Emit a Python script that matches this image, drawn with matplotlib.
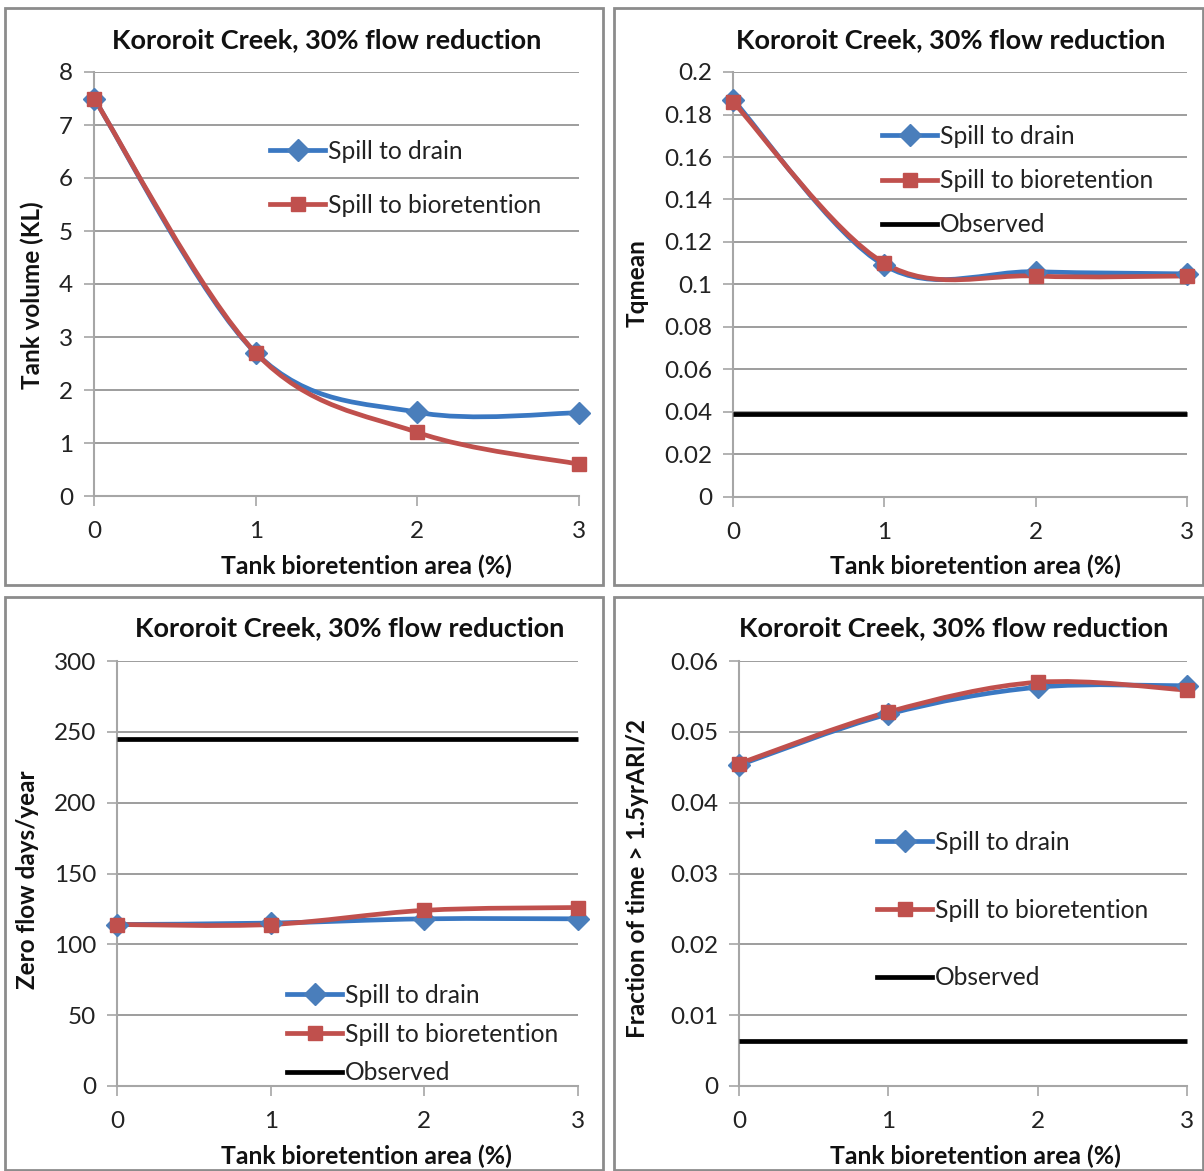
import numpy as np
import matplotlib
matplotlib.use("Agg")
import matplotlib.pyplot as plt
from matplotlib.path import Path
from matplotlib.patches import PathPatch, Rectangle
from matplotlib.lines import Line2D

plt.rcParams['font.family'] = ['Lato', 'DejaVu Sans']

# data
area = [0, 1, 2, 3]

tank_drain = [7.5, 2.7, 1.58, 1.57]
tank_bio = [7.5, 2.7, 1.2, 0.6]

tq_drain = [0.187, 0.109, 0.106, 0.105]
tq_bio = [0.186, 0.110, 0.104, 0.104]
tq_obs = 0.039

zero_drain = [114, 115, 118, 118]
zero_bio = [114, 114, 124, 126]
zero_obs = 245

frac_drain = [0.0453, 0.0525, 0.0563, 0.0565]
frac_bio = [0.0455, 0.0528, 0.0570, 0.0559]
frac_obs = 0.0063

title = "Kororoit Creek, 30% flow reduction"
xlabel = "Tank bioretention area (%)"

BLUE_LINE = '#3a78c2'
BLUE_MK = '#4a7ebb'
RED = '#c0504d'
GRID = '#8c8c8c'

W, H = 1204, 1171


def smooth_path(x, y):
    # excel-like smoothed line: bezier with catmull-rom control points
    p = np.column_stack([x, y]).astype(float)
    n = len(p)
    verts = [p[0]]
    codes = [Path.MOVETO]
    for i in range(n - 1):
        p0 = p[i - 1] if i > 0 else p[i]
        p3 = p[i + 2] if i + 2 < n else p[i + 1]
        c1 = p[i] + (p[i + 1] - p0) / 6
        c2 = p[i + 1] - (p3 - p[i]) / 6
        verts += [c1, c2, p[i + 1]]
        codes += [Path.CURVE4] * 3
    return Path(verts, codes)


def fx(px):
    return px / W


def fy(py):
    return 1 - py / H


def panel(box, ylim, yticks, ylabel, drain, bio, obs, tick_fmt,
          ttl_xy, ylab_xy, xlab_xy, leg_xy, leg_space):
    l, t, r, b = box
    ax = fig.add_axes([fx(l), fy(b), fx(r) - fx(l), fy(t) - fy(b)])
    ax.set_xlim(0, 3)
    ax.set_ylim(*ylim)
    ax.set_yticks(yticks)
    ax.set_yticklabels([tick_fmt(v) for v in yticks])
    ax.set_xticks(area)
    ax.set_xticklabels([str(a) for a in area])
    for s in ['top', 'right']:
        ax.spines[s].set_visible(False)
    for s in ['left', 'bottom']:
        ax.spines[s].set_color('#a6a6a6')
        ax.spines[s].set_linewidth(1.5)
    ax.grid(axis='y', color=GRID, lw=1.2)
    ax.set_axisbelow(True)
    ax.tick_params(axis='both', direction='out', length=7, width=1.2,
                   color='#a6a6a6', labelsize=17.5, labelcolor='#222222')
    ax.tick_params(axis='x', pad=11)
    ax.tick_params(axis='y', pad=8)

    handles = []
    if obs is not None:
        ax.plot([0, 3], [obs, obs], color='black', lw=3.4, clip_on=False,
                solid_capstyle='butt', zorder=3)
    for vals, lc, mc, mk, ms in [(drain, BLUE_LINE, BLUE_MK, 'D', 11),
                                 (bio, RED, RED, 's', 10)]:
        ax.add_patch(PathPatch(smooth_path(area, vals), fill=False,
                               edgecolor=lc, lw=3.4, clip_on=False, zorder=4))
        ax.plot(area, vals, ls='none', marker=mk, ms=ms, color=mc,
                clip_on=False, zorder=5)
    handles.append(Line2D([], [], color=BLUE_LINE, lw=3.4, marker='D',
                          ms=11, mfc=BLUE_MK, mec=BLUE_MK))
    handles.append(Line2D([], [], color=RED, lw=3.4, marker='s', ms=10))
    labels = ["Spill to drain", "Spill to bioretention"]
    if obs is not None:
        handles.append(Line2D([], [], color='black', lw=3.4))
        labels.append("Observed")
    ax.legend(handles, labels, loc='upper left',
              bbox_to_anchor=(fx(leg_xy[0]), fy(leg_xy[1])),
              bbox_transform=fig.transFigure, frameon=False, fontsize=17.7,
              handlelength=2.25, handletextpad=0.1, borderpad=0,
              borderaxespad=0, labelspacing=leg_space, labelcolor='#222222')

    fig.text(fx(ttl_xy[0]), fy(ttl_xy[1]), title, ha='center', va='center',
             fontsize=19.5, fontweight='bold', color='#111111')
    fig.text(fx(ylab_xy[0]), fy(ylab_xy[1]), ylabel, ha='center',
             va='center', rotation=90, fontsize=17.5, fontweight='bold',
             color='#111111')
    fig.text(fx(xlab_xy[0]), fy(xlab_xy[1]), xlabel, ha='center',
             va='center', fontsize=17.8, fontweight='bold', color='#111111')
    return ax


fig = plt.figure(figsize=(W / 100, H / 100), dpi=100)

# chart frames
for x0, y0, x1, y1 in [(5, 8, 603, 585), (614, 8, 1203, 585),
                       (5, 597, 603, 1170), (614, 597, 1203, 1170)]:
    fig.patches.append(Rectangle((fx(x0), fy(y1)), fx(x1) - fx(x0),
                                 fy(y0) - fy(y1), transform=fig.transFigure,
                                 fill=False, edgecolor='#8c8c8c', lw=2))


def fmt_plain(v):
    return ('%g' % v)


panel((94, 72, 579, 496), (0, 8), np.arange(0, 9, 1), "Tank volume (KL)",
      tank_drain, tank_bio, None, lambda v: '%d' % v,
      (327, 40), (32, 295), (366, 566), (270, 140), 1.26)

panel((733, 72, 1187, 497), (0, 0.2), np.round(np.arange(0, 0.201, 0.02), 2),
      "Tqmean", tq_drain, tq_bio, tq_obs, fmt_plain,
      (951, 40), (637, 283), (975, 566), (882, 125), 0.86)

panel((117, 661, 578, 1086), (0, 300), np.arange(0, 301, 50),
      "Zero flow days/year", zero_drain, zero_bio, zero_obs,
      lambda v: '%d' % v,
      (350, 628), (28, 880), (366, 1156), (287, 984), 0.64)

panel((739, 661, 1187, 1086), (0, 0.06), np.round(np.arange(0, 0.061, 0.01), 2),
      "Fraction of time > 1.5yrARI/2", frac_drain, frac_bio, frac_obs,
      fmt_plain,
      (954, 628), (637, 879), (975, 1156), (877, 831), 1.82)

fig.savefig("out.png", dpi=100)
